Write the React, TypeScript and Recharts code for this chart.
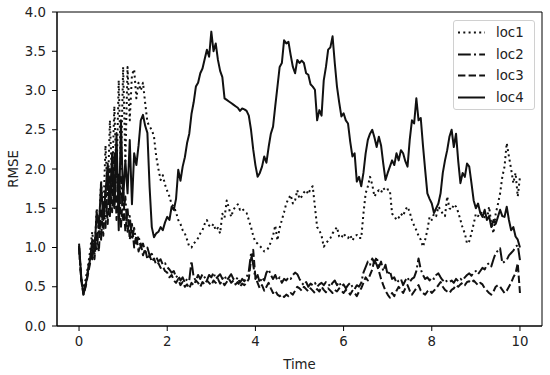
import React from "react";
import {
  Legend,
  Line,
  LineChart,
  ReferenceArea,
  XAxis,
  YAxis,
} from "recharts";

// sampled every 0.05 time units, t = 0 .. 10
const STEP = 0.05;

const LOC1 = [
  1.0, 0.6, 0.45, 0.6, 0.75, 0.95, 1.2, 0.9, 1.5, 1.2, 1.85, 1.4, 2.3, 1.65, 2.62, 1.8, 2.8, 1.9, 3.13, 2.0,
  3.3, 2.1, 3.3, 2.62, 3.2, 3.27, 2.9, 3.1, 3.0, 3.1, 2.84, 2.6, 2.54, 2.5, 2.41, 2.16, 2.0, 1.86, 1.92, 1.8,
  1.72, 1.65, 1.55, 1.52, 1.45, 1.35, 1.3, 1.22, 1.18, 1.1, 1.01, 1.0, 1.05, 1.08, 1.12, 1.18, 1.22, 1.3, 1.35, 1.28,
  1.26, 1.3, 1.22, 1.25, 1.18, 1.43, 1.38, 1.6, 1.5, 1.39, 1.48, 1.52, 1.55, 1.48, 1.5, 1.46, 1.44, 1.35, 1.26, 1.15,
  1.07, 1.05, 1.02, 0.99, 0.95, 0.96, 1.0, 1.07, 1.15, 1.28, 1.09, 1.25, 1.35, 1.45, 1.56, 1.62, 1.67, 1.56, 1.6, 1.73,
  1.62, 1.65, 1.7, 1.73, 1.68, 1.75, 1.78, 1.52, 1.26, 1.22, 1.15, 1.01, 1.05, 1.09, 1.12, 1.18, 1.22, 1.26, 1.14, 1.12,
  1.18, 1.14, 1.12, 1.16, 1.09, 1.14, 1.16, 1.12, 1.12, 1.43, 1.69, 1.78, 1.9, 1.8, 1.65, 1.7, 1.73, 1.7, 1.76, 1.72,
  1.74, 1.73, 1.43, 1.4, 1.35, 1.38, 1.43, 1.4, 1.48, 1.52, 1.45, 1.35, 1.28, 1.22, 1.15, 1.1, 1.01, 1.1, 1.22, 1.39,
  1.35, 1.43, 1.4, 1.52, 1.48, 1.43, 1.4, 1.65, 1.5, 1.48, 1.55, 1.52, 1.45, 1.35, 1.25, 1.18, 1.05, 1.08, 1.18, 1.3,
  1.43, 1.4, 1.45, 1.43, 1.38, 1.35, 1.52, 1.3, 1.18, 1.43, 1.55, 1.69, 1.9, 2.03, 2.33, 2.16, 2.0, 1.82, 1.95, 1.65,
  1.9,
];

const LOC2 = [
  1.0, 0.6, 0.42, 0.55, 0.7, 0.9, 0.85, 1.1, 0.95, 1.35, 1.1, 1.6, 1.25, 1.85, 1.4, 2.05, 1.5, 2.15, 1.45, 1.9,
  1.35, 1.65, 1.2, 1.4, 1.1, 1.25, 1.05, 1.15, 1.0, 1.05, 0.95, 1.0, 0.9, 0.92, 0.85, 0.88, 0.82, 0.85, 0.78, 0.8,
  0.75, 0.72, 0.68, 0.7, 0.62, 0.65, 0.58, 0.62, 0.55, 0.6, 0.58, 0.83, 0.62, 0.58, 0.65, 0.6, 0.66, 0.62, 0.58, 0.65,
  0.62, 0.68, 0.6, 0.63, 0.66, 0.6, 0.64, 0.58, 0.62, 0.66, 0.6, 0.58, 0.62, 0.55, 0.6, 0.57, 0.62, 0.7, 0.92, 0.78,
  0.6, 0.65, 0.55, 0.62, 0.58, 0.68, 0.72, 0.65, 0.6, 0.65, 0.58, 0.62, 0.55, 0.6, 0.58, 0.62, 0.6, 0.65, 0.68, 0.66,
  0.6, 0.55, 0.52, 0.56, 0.5, 0.54, 0.52, 0.55, 0.5, 0.53, 0.55, 0.52, 0.56, 0.54, 0.5, 0.55, 0.58, 0.52, 0.56, 0.5,
  0.53, 0.48, 0.52, 0.55, 0.5, 0.47, 0.52, 0.5, 0.55, 0.68, 0.75, 0.82, 0.78, 0.86, 0.8, 0.88, 0.75, 0.82, 0.7, 0.78,
  0.65, 0.7, 0.6, 0.62, 0.55, 0.58, 0.6, 0.52, 0.58, 0.62, 0.56, 0.6, 0.62, 0.7, 0.86, 0.72, 0.65, 0.6, 0.62, 0.58,
  0.62, 0.6, 0.65, 0.67, 0.62, 0.58, 0.6, 0.56, 0.56, 0.58, 0.55, 0.6, 0.57, 0.6, 0.58, 0.62, 0.65, 0.67, 0.64, 0.68,
  0.7, 0.66, 0.7, 0.74, 0.72, 0.78, 0.8, 0.76, 0.85, 0.93, 0.96, 0.99, 0.8, 0.82, 0.84, 0.9, 0.93, 0.96, 1.01, 1.03,
  0.84,
];

const LOC3 = [
  1.02, 0.58, 0.4, 0.5, 0.65, 0.8, 1.0, 0.85, 1.2, 0.95, 1.5, 1.15, 1.75, 1.3, 2.0, 1.45, 2.2, 1.35, 1.95, 1.25,
  1.75, 1.2, 1.5, 1.1, 1.3, 1.0, 1.15, 0.95, 1.05, 0.9, 0.98, 0.85, 0.9, 0.82, 0.86, 0.78, 0.8, 0.74, 0.76, 0.7,
  0.68, 0.62, 0.65, 0.58, 0.55, 0.6, 0.52, 0.56, 0.5, 0.53, 0.48, 0.55, 0.52, 0.58, 0.55, 0.5, 0.56, 0.53, 0.58, 0.55,
  0.52, 0.58, 0.55, 0.6, 0.54, 0.57, 0.52, 0.56, 0.6, 0.55, 0.58, 0.53, 0.56, 0.5, 0.54, 0.52, 0.55, 0.6, 0.85, 0.97,
  0.62, 0.55, 0.48, 0.52, 0.45, 0.5, 0.55, 0.48, 0.42, 0.45, 0.4, 0.38, 0.4, 0.37, 0.4, 0.38, 0.42, 0.4, 0.45, 0.5,
  0.48, 0.45, 0.5, 0.47, 0.44, 0.48, 0.45, 0.42, 0.47, 0.44, 0.5, 0.46, 0.43, 0.48, 0.45, 0.42, 0.46, 0.44, 0.48, 0.45,
  0.42, 0.46, 0.44, 0.4, 0.45, 0.42, 0.38, 0.44, 0.48, 0.55, 0.62, 0.58, 0.65, 0.72, 0.85, 0.78, 0.7, 0.6, 0.52, 0.45,
  0.4, 0.36, 0.42, 0.38, 0.45, 0.5, 0.46, 0.42, 0.48, 0.52, 0.45, 0.4, 0.44, 0.48, 0.52, 0.45, 0.42, 0.4, 0.44, 0.46,
  0.42, 0.45, 0.48, 0.52, 0.56, 0.5, 0.46, 0.44, 0.42, 0.46, 0.48, 0.52, 0.5, 0.53, 0.55, 0.52, 0.56, 0.57, 0.55, 0.58,
  0.55, 0.52, 0.55, 0.53, 0.48, 0.45, 0.42, 0.4, 0.44, 0.5, 0.52, 0.5, 0.46, 0.42, 0.45, 0.5, 0.55, 0.62, 0.67, 0.8,
  0.42,
];

const LOC4 = [
  1.05, 0.62, 0.4, 0.52, 0.68, 0.85, 1.1, 0.95, 1.45, 1.25, 1.82, 1.35, 1.7, 2.07, 1.5, 2.2, 1.52, 2.46, 1.22, 2.62,
  1.6, 2.11, 1.69, 2.37, 1.55, 2.2, 2.05, 2.3, 2.62, 2.69, 2.55, 2.46, 1.77, 1.26, 1.13, 1.18, 1.2, 1.26, 1.22, 1.32,
  1.39, 1.35, 1.52, 1.48, 1.62, 1.99, 1.85, 2.03, 2.15, 2.33, 2.45, 2.7, 2.85, 3.05, 3.1, 3.22, 3.28, 3.4, 3.52, 3.43,
  3.75, 3.5, 3.6, 3.39, 3.25, 3.17, 2.9, 2.88, 2.86, 2.84, 2.82, 2.8, 2.78, 2.74, 2.77, 2.76, 2.74, 2.68, 2.5, 2.25,
  2.05, 1.9, 1.95, 2.03, 2.16, 2.08, 2.28, 2.45, 2.54, 2.8, 3.05, 3.3, 3.35, 3.64, 3.6, 3.62, 3.45, 3.3, 3.22, 3.39,
  3.35, 3.38, 3.35, 3.22, 3.2, 3.08, 3.05, 3.01, 2.62, 2.75, 2.68, 3.13, 3.3, 3.52, 3.55, 3.69, 3.35, 3.05, 2.85, 2.67,
  2.71, 2.62, 2.58, 2.35, 2.16, 2.2, 1.84, 1.9, 1.78, 1.95, 2.2, 2.37, 2.45, 2.5, 2.4, 2.28, 2.41, 2.3, 2.07, 1.86,
  1.95, 2.03, 2.11, 2.05, 2.2, 2.11, 2.24, 2.2, 2.1, 2.03, 2.37, 2.62, 2.58, 2.9, 2.62, 2.65, 2.3, 1.99, 1.69, 1.62,
  1.56, 1.44, 1.5, 1.56, 1.69, 1.95, 2.11, 2.24, 2.41, 2.5, 2.28, 2.45, 2.1, 1.82, 1.95, 1.9, 2.07, 2.03, 1.82, 1.6,
  1.5, 1.56, 1.44, 1.39, 1.48, 1.35, 1.4, 1.26, 1.35, 1.3, 1.39, 1.48, 1.4, 1.39, 1.52, 1.35, 1.22, 1.26, 1.14, 1.1,
  1.0,
];

const X_TICKS = [0, 2, 4, 6, 8, 10];
const Y_TICKS = [0, 0.5, 1, 1.5, 2, 2.5, 3, 3.5, 4];

const SERIES = [
  { key: "loc1", dash: "2 3.3" },
  { key: "loc2", dash: "12.8 3.2 2 3.2" },
  { key: "loc3", dash: "7.4 3.2" },
  { key: "loc4", dash: undefined },
];

const FONT = "'DejaVu Sans', sans-serif";
const TEXT = "#222";
const INK = "#111";

const data = LOC1.map((v, i) => ({
  t: +(i * STEP).toFixed(2),
  loc1: v,
  loc2: LOC2[i],
  loc3: LOC3[i],
  loc4: LOC4[i],
}));

function LegendBox() {
  return (
    <div
      style={{
        position: "relative",
        width: 82,
        height: 90,
        boxSizing: "border-box",
        border: "1px solid #d0d0d0",
        borderRadius: 3,
        background: "rgba(255,255,255,0.8)",
        fontFamily: FONT,
        fontSize: 13.33,
        color: TEXT,
      }}
    >
      {SERIES.map((s, i) => (
        <div
          key={s.key}
          style={{
            position: "absolute",
            left: 4,
            top: 4.2 + i * 21.5,
            height: 15,
            display: "flex",
            alignItems: "center",
          }}
        >
          <svg width={27} height={15}>
            <line
              x1={0}
              y1={7.5}
              x2={27}
              y2={7.5}
              stroke={INK}
              strokeWidth={2}
              strokeDasharray={s.dash}
            />
          </svg>
          <span style={{ marginLeft: 11, lineHeight: "15px" }}>{s.key}</span>
        </div>
      ))}
    </div>
  );
}

export default function App() {
  return (
    <div style={{ position: "absolute", left: 0, top: 0, fontFamily: FONT }}>
      <LineChart
        width={550}
        height={375}
        data={data}
        margin={{ top: 12, right: 8, bottom: 0, left: 0 }}
      >
        <XAxis
          dataKey="t"
          type="number"
          domain={[-0.5, 10.5]}
          ticks={X_TICKS}
          allowDataOverflow
          height={49}
          tickSize={5}
          tickMargin={6}
          stroke="#000"
          tick={{ fill: TEXT, fontSize: 13.33, fontFamily: FONT }}
          label={{
            value: "Time",
            position: "insideBottom",
            offset: 6,
            fill: TEXT,
            fontSize: 13.33,
            fontFamily: FONT,
          }}
        />
        <YAxis
          type="number"
          domain={[0, 4]}
          ticks={Y_TICKS}
          allowDataOverflow
          width={57}
          tickSize={5}
          tickMargin={6}
          stroke="#000"
          tickFormatter={(v: number) => v.toFixed(1)}
          tick={{ fill: TEXT, fontSize: 13.33, fontFamily: FONT }}
          label={{
            value: "RMSE",
            angle: -90,
            position: "insideLeft",
            offset: 13,
            fill: TEXT,
            fontSize: 13.33,
            fontFamily: FONT,
            style: { textAnchor: "middle" },
          }}
        />
        <ReferenceArea
          x1={-0.5}
          x2={10.5}
          y1={0}
          y2={4}
          fill="none"
          stroke="#000"
          strokeWidth={1}
          ifOverflow="visible"
        />
        {SERIES.map((s) => (
          <Line
            key={s.key}
            type="linear"
            dataKey={s.key}
            stroke={INK}
            strokeWidth={2}
            strokeDasharray={s.dash}
            strokeLinejoin="round"
            dot={false}
            activeDot={false}
            isAnimationActive={false}
          />
        ))}
        <Legend
          layout="vertical"
          align="center"
          verticalAlign="middle"
          content={() => <LegendBox />}
          wrapperStyle={{ position: "absolute", left: 453, top: 20, width: "auto", height: "auto" }}
        />
      </LineChart>
    </div>
  );
}
